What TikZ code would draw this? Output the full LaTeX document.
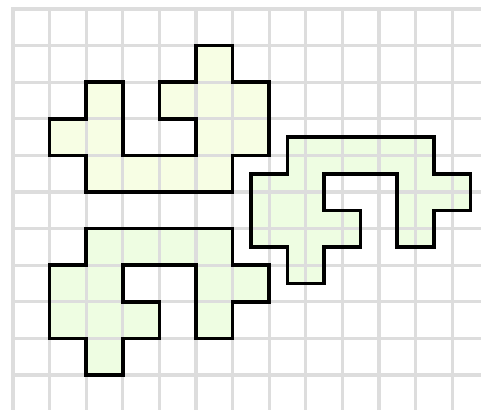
\documentclass[tikz,border=0pt]{standalone}
\definecolor{gridgray}{RGB}{221,221,221}
\definecolor{fillyellow}{RGB}{247,254,228}
\definecolor{fillgreen}{RGB}{238,253,226}
\tikzset{
  gridline/.style={draw=gridgray, line width=2.5pt, line cap=rect},
  piece/.style={draw=black, line width=2.8pt, line join=miter},
}
\begin{document}
\begin{tikzpicture}[x=1cm,y=-1cm]
\useasboundingbox (-0.355,-0.246) rectangle (12.787,10.929);
% fills
\fill[fillyellow] (1,3) -- (2,3) -- (2,2) -- (3,2) -- (3,4) -- (5,4) -- (5,3) -- (4,3) -- (4,2) -- (5,2) -- (5,1) -- (6,1) -- (6,2) -- (7,2) -- (7,4) -- (6,4) -- (6,5) -- (2,5) -- (2,4) -- (1,4) -- cycle;
\fill[fillgreen] (7.5,3.5) -- (11.5,3.5) -- (11.5,4.5) -- (12.5,4.5) -- (12.5,5.5) -- (11.5,5.5) -- (11.5,6.5) -- (10.5,6.5) -- (10.5,4.5) -- (8.5,4.5) -- (8.5,5.5) -- (9.5,5.5) -- (9.5,6.5) -- (8.5,6.5) -- (8.5,7.5) -- (7.5,7.5) -- (7.5,6.5) -- (6.5,6.5) -- (6.5,4.5) -- (7.5,4.5) -- cycle;
\fill[fillgreen] (2,6) -- (6,6) -- (6,7) -- (7,7) -- (7,8) -- (6,8) -- (6,9) -- (5,9) -- (5,7) -- (3,7) -- (3,8) -- (4,8) -- (4,9) -- (3,9) -- (3,10) -- (2,10) -- (2,9) -- (1,9) -- (1,7) -- (2,7) -- cycle;
% grid
\begin{scope}
\clip (-0.355,-0.246) rectangle (12.787,10.929);
\foreach \i in {0,...,13} \draw[gridline] (\i,0) -- (\i,11.5);
\foreach \j in {0,...,11} \draw[gridline] (0,\j) -- (13.5,\j);
\end{scope}
% outlines
\draw[piece] (1,3) -- (2,3) -- (2,2) -- (3,2) -- (3,4) -- (5,4) -- (5,3) -- (4,3) -- (4,2) -- (5,2) -- (5,1) -- (6,1) -- (6,2) -- (7,2) -- (7,4) -- (6,4) -- (6,5) -- (2,5) -- (2,4) -- (1,4) -- cycle;
\draw[piece] (7.5,3.5) -- (11.5,3.5) -- (11.5,4.5) -- (12.5,4.5) -- (12.5,5.5) -- (11.5,5.5) -- (11.5,6.5) -- (10.5,6.5) -- (10.5,4.5) -- (8.5,4.5) -- (8.5,5.5) -- (9.5,5.5) -- (9.5,6.5) -- (8.5,6.5) -- (8.5,7.5) -- (7.5,7.5) -- (7.5,6.5) -- (6.5,6.5) -- (6.5,4.5) -- (7.5,4.5) -- cycle;
\draw[piece] (2,6) -- (6,6) -- (6,7) -- (7,7) -- (7,8) -- (6,8) -- (6,9) -- (5,9) -- (5,7) -- (3,7) -- (3,8) -- (4,8) -- (4,9) -- (3,9) -- (3,10) -- (2,10) -- (2,9) -- (1,9) -- (1,7) -- (2,7) -- cycle;
\end{tikzpicture}
\end{document}
